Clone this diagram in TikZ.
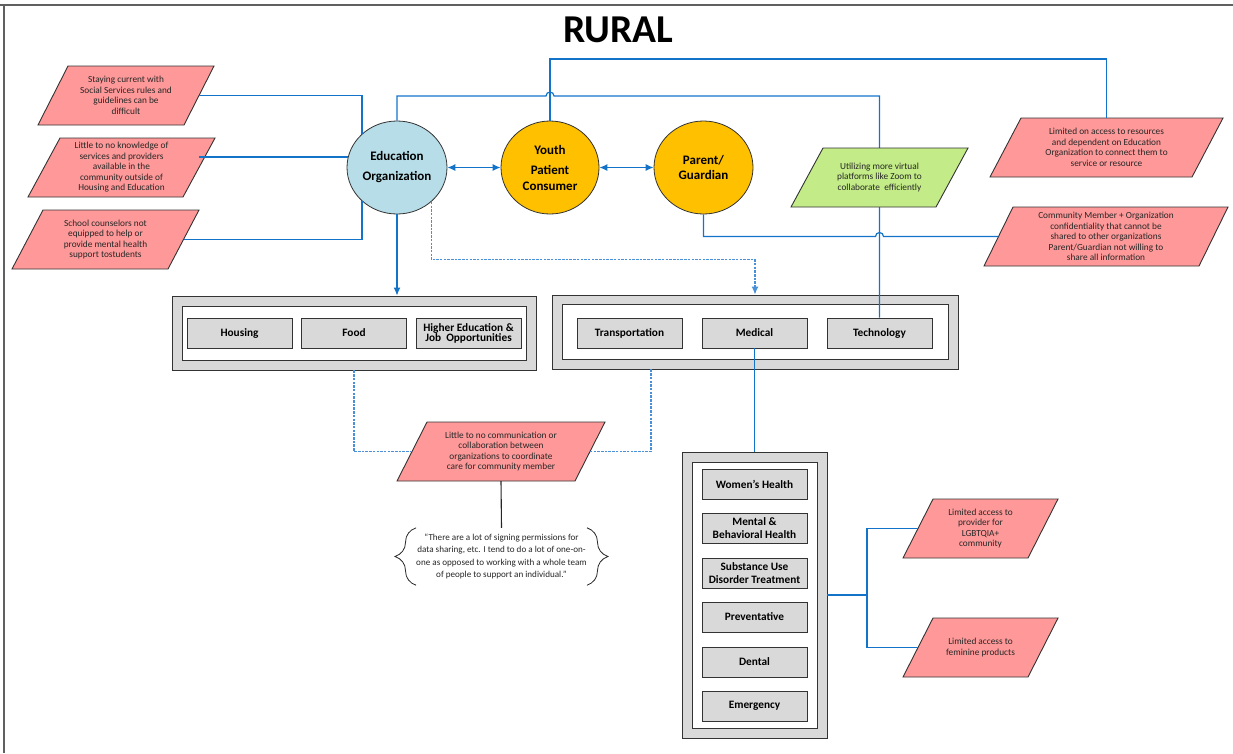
\documentclass[tikz,border=0pt]{standalone}
\usepackage{fontspec}
\setmainfont{Carlito}
\usetikzlibrary{arrows.meta,decorations.pathreplacing,shapes.geometric,calc}
\definecolor{cpink}{HTML}{FF9999}
\definecolor{cgreen}{HTML}{C3EB87}
\definecolor{ccirc}{HTML}{B7DEE8}
\definecolor{corange}{HTML}{FFC000}
\definecolor{cgray}{HTML}{D9D9D9}
\definecolor{cline}{HTML}{1273C9}
\definecolor{clight}{HTML}{4A90D9}
\definecolor{cborder}{HTML}{333333}
\definecolor{ctext}{HTML}{262626}
\definecolor{cframe}{HTML}{606060}
\newcommand\pgram[8]{%
  \filldraw[fill=#7, draw=cborder, line width=0.9pt]
    ({#2-#4/2+#6},{#3-#5/2}) -- ({#2+#4/2},{#3-#5/2}) --
    ({#2+#4/2-#6},{#3+#5/2}) -- ({#2-#4/2},{#3+#5/2}) -- cycle;
  \node[ptext, minimum width={(#4-#6)*1pt}, minimum height={#5*1pt}] (#1) at (#2,#3) {#8};
}
\tikzset{
  ptext/.style={align=center, inner sep=0pt, text=ctext, font=\fontsize{9.3}{10.5}\selectfont},
  circ/.style={ellipse, draw=cborder, line width=0.8pt, align=center, inner sep=0pt,
    font=\fontsize{13}{16}\selectfont\bfseries},
  outerbox/.style={draw=cborder, fill=cgray, line width=0.9pt, inner sep=0pt},
  innerbox/.style={draw=cborder, fill=white, line width=0.9pt, inner sep=0pt},
  itembox/.style={draw=cborder, fill=cgray, line width=0.9pt, inner sep=0pt,
    minimum width=105pt, minimum height=30pt, align=center,
    font=\fontsize{11.3}{13}\selectfont\bfseries},
  conn/.style={draw=cline, line width=1.2pt},
  dashconn/.style={draw=clight, line width=1.2pt, dash pattern=on 2.5pt off 1.2pt},
  tip/.style={-{Latex[length=8pt,width=7pt]}},
  dtip/.style={{Latex[length=8pt,width=7pt]}-{Latex[length=8pt,width=7pt]}},
  bracestyle/.style={draw=ctext, line width=0.8pt, decorate, decoration={brace, amplitude=21pt}}
}
\begin{document}
\begin{tikzpicture}[x=1pt,y=-1pt]
\useasboundingbox (0,0) rectangle (1233,753);
% frame
\draw[cframe, line width=2pt] (0,4.5) -- (1233,4.5);
\draw[cframe, line width=2pt] (3.5,4.5) -- (3.5,753);
% title
\node[anchor=base, font=\fontsize{39.5}{40}\selectfont\bfseries, inner sep=0pt] (title) at (618.5,42) {RURAL};
% circles
\node[circ, fill=ccirc, minimum width=100pt, minimum height=93pt] (edu) at (397,167.5) {Education\\[4pt]Organization};
\node[circ, fill=corange, minimum width=98pt, minimum height=93pt] (you) at (550,167.5) {Youth\\[4pt]Patient\\Consumer};
\node[circ, fill=corange, minimum width=99pt, minimum height=93pt] (par) at (703.5,167.5) {Parent/\\[-1pt]Guardian};
% group 1
\node[outerbox, minimum width=364pt, minimum height=74pt] (g1) at (354,333) {};
\node[innerbox, minimum width=344pt, minimum height=54pt] (g1in) at (354,333) {};
\node[itembox] (housing) at (239.5,333) {Housing};
\node[itembox] (food) at (354,333) {Food};
\node[itembox, font=\fontsize{11.3}{10}\selectfont\bfseries] (higher) at (468.5,333) {Higher Education \&\\Job\ \ Opportunities};
% group 2
\node[outerbox, minimum width=406pt, minimum height=74pt] (g2) at (755,332) {};
\node[innerbox, minimum width=386pt, minimum height=55pt] (g2in) at (755,331.5) {};
\node[itembox] (transp) at (629.5,333) {Transportation};
\node[itembox] (med) at (754.5,333) {Medical};
\node[itembox] (tech) at (879.5,333) {Technology};
% medical group
\node[outerbox, minimum width=145pt, minimum height=286pt] (mg) at (754.5,595) {};
\node[innerbox, minimum width=125pt, minimum height=266pt] (mgin) at (754.5,595) {};
\node[itembox] (women) at (754.5,484) {Women’s Health};
\node[itembox] (mental) at (754.5,528) {Mental \&\\Behavioral Health};
\node[itembox] (subst) at (754.5,573) {Substance Use\\Disorder Treatment};
\node[itembox] (prev) at (754.5,617) {Preventative};
\node[itembox] (dental) at (754.5,662) {Dental};
\node[itembox] (emerg) at (754.5,706) {Emergency};
% parallelograms
\pgram{p1}{126}{95.5}{176}{59}{30}{cpink}{Staying current with\\Social Services rules and\\guidelines can be\\difficult}
\pgram{p2}{121.5}{167.5}{187}{59}{32}{cpink}{Little to no knowledge of\\services and providers\\available in the\\community outside of\\Housing and Education}
\pgram{p3}{105.5}{239.5}{187}{59}{31}{cpink}{School counselors not\\equipped to help or\\provide mental health\\support tostudents}
\pgram{plim}{1106.5}{147.5}{233}{59}{31}{cpink}{Limited on access to resources\\and dependent on Education\\Organization to connect them to\\service or resource}
\pgram{pcom}{1106}{236.5}{244}{59}{29}{cpink}{Community Member + Organization\\confidentiality that cannot be\\shared to other organizations\\Parent/Guardian not willing to\\share all information}
\pgram{comm}{501}{451.5}{208}{59}{30}{cpink}{Little to no communication or\\collaboration between\\organizations to coordinate\\care for community member}
\pgram{lgb}{980.5}{528.5}{155}{59}{30}{cpink}{Limited access to\\provider for\\LGBTQIA+\\community}
\pgram{fem}{980.5}{647.5}{155}{59}{30}{cpink}{Limited access to\\feminine products}
% quote
\node[align=center, inner sep=0pt, text=ctext, font=\fontsize{9.1}{12.3}\selectfont,
  minimum width=169pt, minimum height=57pt] (quote) at (501.5,556.5)
  {“There are a lot of signing permissions for\\data sharing, etc. I tend to do a lot of one-on-\\one as opposed to working with a whole team\\of people to support an individual.”};
\draw[bracestyle] (quote.south west) -- (quote.north west);
\draw[bracestyle] (quote.north east) -- (quote.south east);
% connectors
\draw[conn] (p1.east) -| (edu.136);
\draw[conn] (edu.168) -- (edu.168 -| p2.east);
\draw[conn] (p3.east) -| (edu.224);
\draw[conn, dtip] (edu.east) -- (you.west);
\draw[conn, dtip] (you.east) -- (par.west);
\draw[conn] (you.north) |- (plim.north |- 0,59) -- (plim.north);
\draw[conn] (edu.north) |- (546,96) arc[start angle=180, end angle=0, radius=4pt]
  -- (tech.north |- 0,96) -- (tech.north);
\draw[conn] (par.south) |- (875.5,236.5) arc[start angle=180, end angle=0, radius=4pt] -- (pcom.west);
\draw[conn, tip] (edu.south) -- (edu.south |- g1.north);
\draw[dashconn, tip] (edu.-45) -- ++(0,58) -| (g2.north);
\draw[dashconn] (g1.south) |- (comm.west);
\draw[dashconn] ([xshift=-104pt]g2.south) |- (comm.east);
\draw[conn] (med.south) -- (mg.north);
\draw[draw=ctext, line width=1.1pt] (comm.south) -- (quote.north);
\coordinate (mj) at (867,595);
\draw[conn] (mg.east) -- (mj);
\draw[conn] (mj) |- (lgb.west);
\draw[conn] (mj) |- (fem.west);
% green parallelogram on top of the line
\pgram{green}{879.5}{177.5}{177}{59}{32}{cgreen}{Utilizing more virtual\\platforms like Zoom to\\collaborate\ \ efficiently}
\end{tikzpicture}
\end{document}
